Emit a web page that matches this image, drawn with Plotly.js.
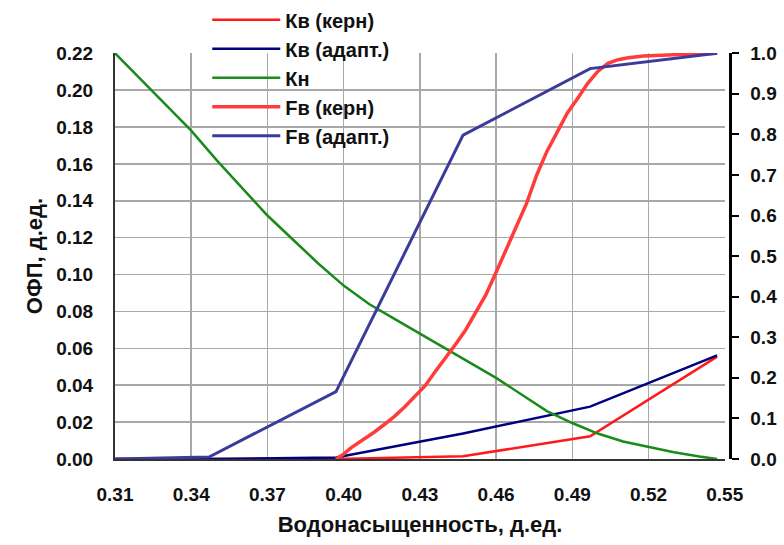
<!DOCTYPE html>
<html>
<head>
<meta charset="utf-8">
<script src="https://cdn.plot.ly/plotly-3.0.1.min.js"></script>
<style>html,body{margin:0;padding:0;background:#fff;}#chart{width:784px;height:545px;}</style>
</head>
<body>
<div id="chart"></div>
<script>
// ---- data ----
const seriesNames = ["Кв (керн)", "Кв (адапт.)", "Кн", "Fв (керн)", "Fв (адапт.)"];

const swNodes = [0.31, 0.347, 0.397, 0.447, 0.497, 0.547];
const kwCore  = [0, 0, 0, 0.0015, 0.0123, 0.0555];
const kwAdapt = [0, 0, 0.0008, 0.0138, 0.0284, 0.0562];
const fwAdapt = [0, 0.005, 0.166, 0.798, 0.962, 1.0];

const swOil = [0.31, 0.32, 0.33, 0.34, 0.35, 0.36, 0.37, 0.38, 0.39, 0.40, 0.41, 0.42, 0.43,
               0.44, 0.45, 0.46, 0.47, 0.48, 0.49, 0.50, 0.51, 0.52, 0.53, 0.54, 0.547];
const koil  = [0.22, 0.206, 0.192, 0.178, 0.162, 0.147, 0.132, 0.119, 0.106, 0.094, 0.084, 0.076, 0.068,
               0.060, 0.052, 0.044, 0.035, 0.026, 0.0195, 0.0138, 0.0095, 0.0065, 0.0037, 0.0013, 0];

const swFcore = [0.397, 0.400, 0.403, 0.406, 0.409, 0.412, 0.416, 0.420, 0.424, 0.428, 0.432, 0.436,
                 0.440, 0.444, 0.448, 0.452, 0.456, 0.460, 0.464, 0.468, 0.472, 0.476, 0.480, 0.484,
                 0.488, 0.492, 0.496, 0.500, 0.504, 0.508, 0.512, 0.518, 0.527, 0.537, 0.547];
const fwCore  = [0, 0.012, 0.028, 0.040, 0.054, 0.066, 0.085, 0.105, 0.128, 0.155, 0.180, 0.215,
                 0.248, 0.282, 0.318, 0.360, 0.405, 0.460, 0.518, 0.575, 0.630, 0.700, 0.758, 0.805,
                 0.852, 0.888, 0.925, 0.955, 0.975, 0.984, 0.989, 0.993, 0.996, 0.998, 1.0];

const xTitle = "Водонасыщенность, д.ед.";
const yTitle = "ОФП, д.ед.";

const FONT = "Liberation Sans, Arial, sans-serif";

const traces = [
  {x: swNodes, y: kwCore,  name: seriesNames[0], yaxis: "y",  line: {color: "#ff1a1a", width: 2.5}},
  {x: swNodes, y: kwAdapt, name: seriesNames[1], yaxis: "y",  line: {color: "#000080", width: 2.5}},
  {x: swOil,   y: koil,    name: seriesNames[2], yaxis: "y",  line: {color: "#1a8a1a", width: 2.5}},
  {x: swFcore, y: fwCore,  name: seriesNames[3], yaxis: "y2", line: {color: "#ff3b3b", width: 3.5}},
  {x: swNodes, y: fwAdapt, name: seriesNames[4], yaxis: "y2", line: {color: "#3b3b9c", width: 3}}
].map(t => Object.assign({type: "scatter", mode: "lines", hoverinfo: "skip"}, t));

const layout = {
  width: 784, height: 545,
  margin: {l: 115, r: 54, t: 53, b: 86, pad: 0, autoexpand: false},
  paper_bgcolor: "#fff", plot_bgcolor: "#fff",
  font: {family: FONT, color: "#111"},
  showlegend: true,
  legend: {
    x: 0.15, y: 1.13, xanchor: "left", yanchor: "top",
    bgcolor: "rgba(0,0,0,0)", borderwidth: 0,
    font: {family: FONT, size: 20, weight: "bold", color: "#111"},
    itemwidth: 68, traceorder: "normal"
  },
  // white panel behind the legend: hides gridlines there, but stays under the curves
  shapes: [{
    type: "rect", xref: "paper", yref: "paper", layer: "between",
    x0: 0.1268, x1: 0.5154, y0: 0.761, y1: 1.0,
    fillcolor: "#fff", line: {width: 0}
  }],
  xaxis: {
    domain: [0, 610 / 615],
    range: [0.31, 0.5501], tick0: 0.31, dtick: 0.03, tickformat: ".2f",
    showgrid: true, gridcolor: "#a8a8a8", gridwidth: 1.5,
    showline: true, linecolor: "#333", linewidth: 2,
    zeroline: false,
    ticks: "outside", ticklen: 17, tickcolor: "rgba(0,0,0,0)",
    tickfont: {family: FONT, size: 19, weight: "bold", color: "#111"},
    title: {text: xTitle, font: {family: FONT, size: 22, weight: "bold", color: "#111"}, standoff: 13}
  },
  yaxis: {
    range: [0, 0.2201], dtick: 0.02, tickformat: ".2f",
    showgrid: true, gridcolor: "#a8a8a8", gridwidth: 1.5,
    showline: true, linecolor: "#333", linewidth: 2,
    zeroline: false,
    ticks: "outside", ticklen: 16, tickcolor: "rgba(0,0,0,0)",
    tickfont: {family: FONT, size: 19, weight: "bold", color: "#111"},
    title: {text: yTitle, font: {family: FONT, size: 22, weight: "bold", color: "#111"}, standoff: 8}
  },
  yaxis2: {
    overlaying: "y", side: "right", anchor: "free", position: 1,
    range: [0, 1.0005], dtick: 0.1, tickformat: ".1f",
    showgrid: false, zeroline: false,
    showline: true, linecolor: "#000", linewidth: 2.5,
    ticks: "outside", ticklen: 7, tickwidth: 2, tickcolor: "#000",
    ticklabelstandoff: 8,
    tickfont: {family: FONT, size: 19, weight: "bold", color: "#111"}
  }
};

Plotly.newPlot("chart", traces, layout, {staticPlot: true, displayModeBar: false});
</script>
</body>
</html>
